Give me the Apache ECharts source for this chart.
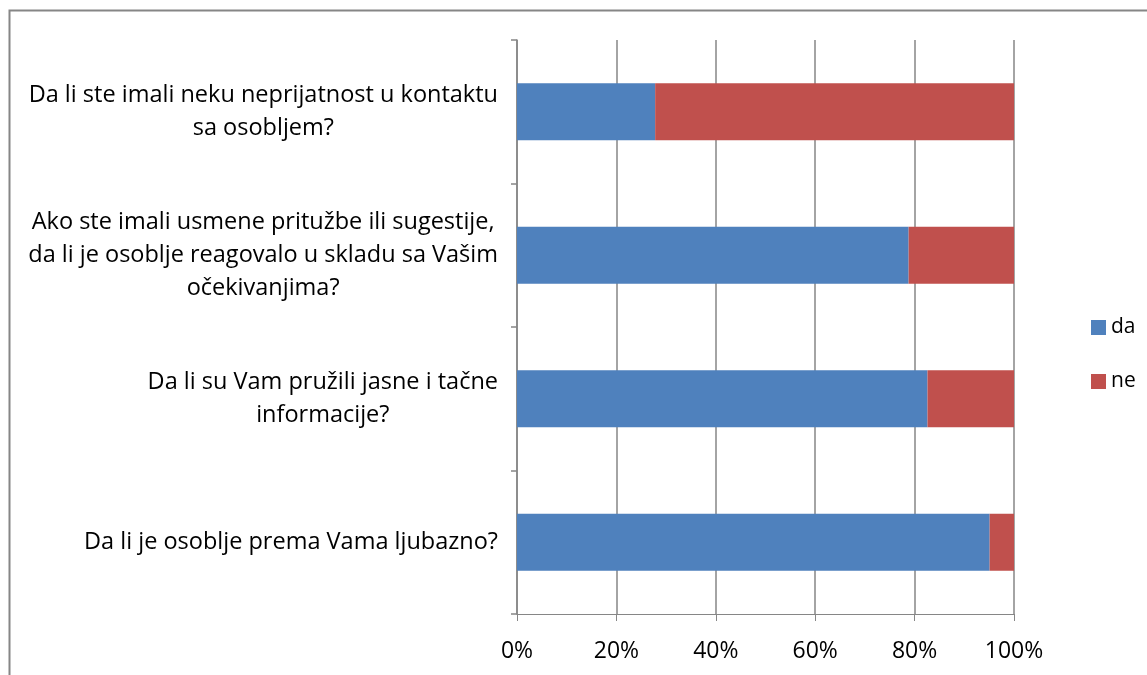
<!DOCTYPE html>
<html>
<head>
<meta charset="utf-8">
<script src="https://cdn.jsdelivr.net/npm/echarts@6/dist/echarts.min.js"></script>
<style>
  html, body { margin: 0; padding: 0; background: #fff; }
  #chart { width: 1147px; height: 675px; }
</style>
</head>
<body>
<div id="chart"></div>
<script>
// pitanja, odozgo prema dolje
const questions = [
  'Da li ste imali neku neprijatnost u kontaktu\nsa osobljem?',
  'Ako ste imali usmene pritužbe ili sugestije,\nda li je osoblje reagovalo u skladu sa Vašim\nočekivanjima?',
  'Da li su Vam pružili jasne i tačne\ninformacije?',
  'Da li je osoblje prema Vama ljubazno?'
]
const daValues = [27.8, 78.8, 82.6, 95.1]
const neValues = [72.2, 21.2, 17.4, 4.9]
const seriesNames = ['da', 'ne']

const fontFam = '"Open Sans", "Noto Sans", sans-serif'
const gray = '#868686'

const myChart = echarts.init(document.getElementById('chart'))
myChart.setOption({
  animation: false,
  color: ['#4F81BD', '#C0504D'],
  graphic: [
    {
      type: 'rect',
      shape: { x: 9.5, y: 10.5, width: 1200, height: 800 },
      style: { fill: 'none', stroke: gray, lineWidth: 2 },
      silent: true
    }
  ],
  legend: {
    orient: 'vertical',
    left: 1086,
    top: 312,
    itemWidth: 15,
    itemHeight: 15,
    itemGap: 33,
    icon: 'rect',
    data: seriesNames,
    textStyle: { fontFamily: fontFam, fontSize: 21, color: '#000', padding: [0, 0, 0, 0] }
  },
  grid: {
    left: 517,
    right: 133,
    top: 40,
    bottom: 61
  },
  xAxis: {
    type: 'value',
    min: 0,
    max: 100,
    interval: 20,
    axisLine: { show: true, lineStyle: { color: gray, width: 1 } },
    axisTick: { show: true, length: 7, lineStyle: { color: gray } },
    splitLine: { show: true, lineStyle: { color: gray, width: 1.5 } },
    axisLabel: {
      formatter: '{value}%',
      margin: 26,
      fontFamily: fontFam,
      fontSize: 23,
      color: '#000'
    }
  },
  yAxis: {
    type: 'category',
    inverse: true,
    data: questions,
    axisLine: { show: true, lineStyle: { color: gray, width: 1.5 } },
    axisTick: { show: true, length: 6, lineStyle: { color: gray, width: 1.5 } },
    axisLabel: {
      margin: 19,
      align: 'right',
      formatter: function (v) {
        return v.split('\n').map(function (l) { return '{c|' + l + '}' }).join('\n')
      },
      rich: {
        c: {
          align: 'center',
          fontFamily: fontFam,
          fontSize: 23.5,
          lineHeight: 33,
          color: '#000'
        }
      }
    }
  },
  series: [
    {
      name: seriesNames[0],
      type: 'bar',
      stack: 'total',
      barWidth: 57,
      data: daValues
    },
    {
      name: seriesNames[1],
      type: 'bar',
      stack: 'total',
      barWidth: 57,
      data: neValues
    }
  ]
})
</script>
</body>
</html>
